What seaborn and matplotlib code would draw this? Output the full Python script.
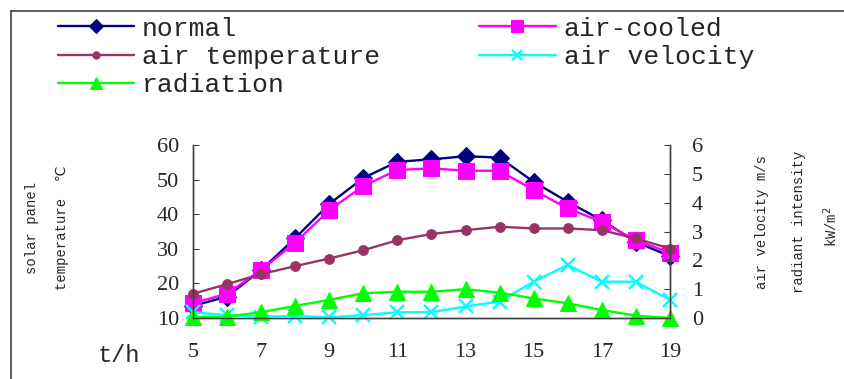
import numpy as np
import pandas as pd
import seaborn as sns
import matplotlib.pyplot as plt
from matplotlib.lines import Line2D

# data
hours = [5, 6, 7, 8, 9, 10, 11, 12, 13, 14, 15, 16, 17, 18, 19]
normal = [13.5, 16.2, 23.9, 33.1, 43.0, 50.5, 55.2, 55.9, 56.8, 56.4, 49.4, 43.6, 38.3, 32.0, 27.9]
air_cooled = [14.3, 17.0, 23.9, 31.8, 41.2, 48.2, 52.8, 53.3, 52.6, 52.6, 47.0, 41.7, 37.8, 32.5, 28.9]
air_temp = [17.0, 19.8, 22.7, 25.0, 27.2, 29.6, 32.5, 34.3, 35.4, 36.4, 35.9, 35.9, 35.4, 33.0, 30.1]
air_velocity = [0.2, 0.1, 0.05, 0.07, 0.02, 0.1, 0.2, 0.2, 0.4, 0.57, 1.26, 1.84, 1.26, 1.26, 0.63]
radiation = [0.02, 0.05, 0.2, 0.42, 0.63, 0.86, 0.91, 0.91, 1.0, 0.88, 0.68, 0.51, 0.28, 0.08, 0.0]

x_ticks = [5, 7, 9, 11, 13, 15, 17, 19]
left_ticks = [10, 20, 30, 40, 50, 60]
right_ticks = [0, 1, 2, 3, 4, 5, 6]

df = pd.DataFrame({"t": hours, "normal": normal, "air-cooled": air_cooled,
                   "air temperature": air_temp, "air velocity": air_velocity,
                   "radiation": radiation})

sns.set_style("white")
plt.rcParams["font.family"] = ["Liberation Serif", "DejaVu Sans"]

fig = plt.figure(figsize=(8.44, 3.79), dpi=100)
ax = fig.add_axes([0.2287, 0.161, 0.565, 0.456])
ax2 = ax.twinx()

lw = 1.7
sns.lineplot(data=df, x="t", y="normal", ax=ax, color="#000080", marker="D",
             markersize=9, markeredgecolor="#000080", linewidth=lw, clip_on=False,
             label="normal", legend=False)
sns.lineplot(data=df, x="t", y="air-cooled", ax=ax, color="#FF00FF", marker="s",
             markersize=11, markeredgecolor="#FF00FF", linewidth=lw, clip_on=False,
             label="air-cooled", legend=False)
sns.lineplot(data=df, x="t", y="air temperature", ax=ax, color="#993366", marker="o",
             markersize=7, markeredgecolor="#993366", linewidth=lw, clip_on=False,
             label="air temperature", legend=False)
sns.lineplot(data=df, x="t", y="air velocity", ax=ax2, color="#00FFFF", marker="x",
             markersize=10, markeredgecolor="#00FFFF", markeredgewidth=1.7,
             linewidth=lw, clip_on=False, label="air velocity", legend=False)
sns.lineplot(data=df, x="t", y="radiation", ax=ax2, color="#00FF00", marker="^",
             markersize=11, markeredgecolor="#00FF00", linewidth=lw, clip_on=False,
             label="radiation", legend=False)

ax.set_xlim(5, 19)
ax.set_ylim(10, 60)
ax2.set_ylim(0, 6)
ax.set_xticks(x_ticks)
ax.set_yticks(left_ticks)
ax2.set_yticks(right_ticks)
ax.set_xlabel("")
ax.set_ylabel("")
ax2.set_ylabel("")

for a in (ax, ax2):
    a.spines["top"].set_visible(False)
    for s in a.spines.values():
        s.set_color("#404040")
        s.set_linewidth(1.0)
ax.tick_params(axis="both", direction="in", length=4, color="#404040", labelsize=16)
ax.tick_params(axis="x", pad=18)
ax.tick_params(axis="y", pad=10)
ax2.tick_params(axis="y", direction="in", length=4, color="#404040", labelsize=16, pad=16)

# axis titles
mono = ["Liberation Mono", "DejaVu Sans"]
fig.text(32 / 844, 1 - 228 / 379, "solar panel", rotation=90, ha="center", va="center",
         fontsize=10, family=mono)
fig.text(62 / 844, 1 - 228 / 379, "temperature  ℃", rotation=90, ha="center", va="center",
         fontsize=10, family=mono)
fig.text(762 / 844, 1 - 222 / 379, "air velocity m/s", rotation=90, ha="center", va="center",
         fontsize=10, family=mono)
fig.text(799 / 844, 1 - 222 / 379, "radiant intensity", rotation=90, ha="center", va="center",
         fontsize=10, family=mono)
fig.text(831 / 844, 1 - 227 / 379, "kW/m$^2$", rotation=90, ha="center", va="center",
         fontsize=10, family=mono)
fig.text(119 / 844, 1 - 355 / 379, "t/h", ha="center", va="center", fontsize=17,
         family=mono)

# legend, two columns
h1, l1 = ax.get_legend_handles_labels()
h2, l2 = ax2.get_legend_handles_labels()
handles = dict(zip(l1 + l2, h1 + h2))
order = ["normal", "air temperature", "radiation", "air-cooled", "air velocity"]
leg = fig.legend([handles[k] for k in order], order, ncol=2, loc="upper left",
                 bbox_to_anchor=(47 / 844, 1 - 6 / 379), frameon=False,
                 prop={"family": mono, "size": 19}, handlelength=2.9,
                 handletextpad=0.3, columnspacing=3.75, labelspacing=0.16,
                 markerscale=0.75, borderaxespad=0)

# outer frame
fig.add_artist(Line2D([11 / 844, 11 / 844], [0, 1 - 10.5 / 379], color="#404040", lw=1.2))
fig.add_artist(Line2D([11 / 844, 1], [1 - 10.5 / 379, 1 - 10.5 / 379], color="#404040", lw=1.2))

fig.savefig("out.png", dpi=100)
